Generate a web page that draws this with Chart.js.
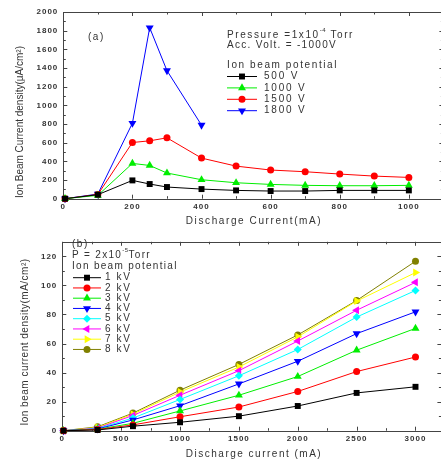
<!DOCTYPE html>
<html>
<head>
<meta charset="utf-8">
<script src="https://cdn.jsdelivr.net/npm/chart.js@4/dist/chart.umd.min.js"></script>
<style>
  html, body { margin: 0; padding: 0; background: #fff; overflow: hidden; width: 441px; height: 464px; }
  canvas { position: absolute; left: 0; }
  #ca { top: 0; }
  #cb { top: 232px; }
</style>
</head>
<body>
<canvas id="ca" width="448" height="232"></canvas>
<canvas id="cb" width="446" height="232"></canvas>
<script>
const FONT = "'Liberation Sans', Arial, sans-serif";
const TXT = "#333";

// (a) pressure 1x10^-4 Torr, current density in uA/cm2
const currentA = [5, 100, 200, 250, 300, 400, 500, 600, 700, 800, 900, 1000];
const v500  = [0, 43, 196, 157, 125, 103, 89, 82, 82, 89, 89, 89];
const v1000 = [0, 36, 378, 356, 275, 203, 171, 153, 143, 139, 139, 143];
const v1500 = [0, 45, 602, 620, 652, 435, 349, 307, 289, 264, 242, 228];
const v1800 = [0, 50, 809, 1832, 1372, 788];

// (b) pressure 2x10^-5 Torr, current density in mA/cm2
const currentB = [10, 300, 600, 1000, 1500, 2000, 2500, 3000];
const kv1 = [0, 0.5, 3.1, 5.8, 10.0, 17.0, 26.0, 30.2];
const kv2 = [0, 0.8, 4.0, 9.6, 16.3, 27.0, 40.7, 50.7];
const kv3 = [0, 1.0, 5.1, 13.6, 24.4, 37.3, 55.4, 70.4];
const kv4 = [0, 1.2, 7.4, 17.2, 32.2, 47.8, 66.8, 81.8];
const kv5 = [0, 1.5, 8.7, 21.5, 37.8, 55.9, 78.2, 96.5];
const kv6 = [0, 1.8, 10.5, 24.4, 41.3, 61.7, 82.9, 102.1];
const kv7 = [0, 2.2, 11.4, 26.6, 43.8, 64.6, 89.2, 108.8];
const kv8 = [0, 2.7, 12.1, 27.9, 45.6, 65.9, 89.6, 116.6];

const pts = (xs, ys) => ys.map((y, i) => ({ x: xs[i], y }));

// marker sizes per style, so squares/triangles look like the original
const RADIUS = { rect: 4.2, circle: 3.5, triangle: 4.6, rectRot: 4 };

function series(label, xs, ys, color, style, rot) {
  const r = RADIUS[style];
  return {
    label, data: pts(xs, ys),
    borderColor: color, backgroundColor: color,
    borderWidth: 1, pointStyle: style, rotation: rot || 0,
    pointRadius: r, pointBorderWidth: 0, pointHoverRadius: r,
    tension: 0, clip: false
  };
}

// letter spacing like the original figure
const spacing = {
  id: 'spacing',
  beforeLayout(c) { c.ctx.letterSpacing = '1px'; },
  beforeDraw(c) { c.ctx.letterSpacing = '1px'; }
};

// box around the plot with inward ticks on all four sides
const frame = {
  id: 'frame',
  beforeDatasetsDraw(chart, args, o) {
    const { ctx, chartArea: a } = chart;
    const xs = chart.scales.x, ys = chart.scales.y;
    ctx.save();
    ctx.strokeStyle = '#444';
    ctx.lineWidth = 1;
    ctx.strokeRect(Math.round(a.left) + 0.5, Math.round(a.top) + 0.5,
      Math.round(a.right - a.left), Math.round(a.bottom - a.top));
    ctx.beginPath();
    xs.ticks.forEach(t => {
      const p = Math.round(xs.getPixelForValue(t.value)) + 0.5;
      const len = t.value % o.xMajor === 0 ? 4 : 2.5;
      ctx.moveTo(p, a.bottom); ctx.lineTo(p, a.bottom - len);
      ctx.moveTo(p, a.top); ctx.lineTo(p, a.top + len);
    });
    ys.ticks.forEach(t => {
      const p = Math.round(ys.getPixelForValue(t.value)) + 0.5;
      const len = t.value % o.yMajor === 0 ? 4 : 2.5;
      ctx.moveTo(a.left, p); ctx.lineTo(a.left + len, p);
      ctx.moveTo(a.right, p); ctx.lineTo(a.right - len, p);
    });
    ctx.stroke();
    ctx.restore();
  }
};

function drawParts(ctx, parts, x, y, size, sp) {
  parts.forEach(p => {
    const s = p.sup ? size * 0.6 : size;
    ctx.font = s + 'px ' + FONT;
    ctx.letterSpacing = (p.sup ? 0.5 : sp) + 'px';
    ctx.fillText(p.t, x, p.sup ? y - size * 0.45 : y);
    x += ctx.measureText(p.t).width;
  });
}

// notes, axis titles and in-plot legend
const notes = {
  id: 'notes',
  afterDraw(chart, args, o) {
    const ctx = chart.ctx;
    ctx.save();
    ctx.fillStyle = TXT;
    ctx.textBaseline = 'middle';
    ctx.textAlign = 'left';
    o.texts.forEach(t => drawParts(ctx, t.parts, t.x, t.y, t.size, t.sp));

    // axis titles
    ctx.font = '10px ' + FONT;
    ctx.textAlign = 'center';
    ctx.letterSpacing = o.xTitle.sp + 'px';
    ctx.fillText(o.xTitle.text, o.xTitle.x, o.xTitle.y);
    ctx.save();
    ctx.translate(o.yTitle.x, o.yTitle.y);
    ctx.rotate(-Math.PI / 2);
    ctx.letterSpacing = o.yTitle.sp + 'px';
    ctx.fillText(o.yTitle.text, 0, 0);
    ctx.restore();

    // legend
    const L = o.legend;
    ctx.textAlign = 'left';
    ctx.font = L.size + 'px ' + FONT;
    ctx.letterSpacing = L.sp + 'px';
    chart.data.datasets.forEach((d, i) => {
      const y = L.y0 + i * L.dy;
      ctx.strokeStyle = d.borderColor;
      ctx.lineWidth = 1;
      ctx.beginPath();
      ctx.moveTo(L.x0, y); ctx.lineTo(L.x1, y);
      ctx.stroke();
      ctx.fillStyle = d.backgroundColor;
      Chart.helpers.drawPoint(ctx, {
        pointStyle: d.pointStyle, rotation: d.rotation,
        radius: d.pointRadius, borderWidth: 0
      }, (L.x0 + L.x1) / 2, y);
      ctx.fillStyle = TXT;
      ctx.fillText(d.label, L.tx, y);
    });
    ctx.restore();
  }
};

function axes(xMax, xStep, xMajor, yMax, yStep, yMajor, yWidth) {
  const tickFont = { family: FONT, size: 8, weight: 'bold' };
  const build = (max, step) => s => {
    const list = [];
    for (let v = 0; v <= max + 1e-9; v += step) list.push({ value: v });
    s.ticks = list;
  };
  return {
    x: {
      type: 'linear', min: 0, max: xMax,
      grid: { display: false, drawTicks: false }, border: { display: false },
      ticks: { autoSkip: false, maxRotation: 0, padding: 3, color: TXT, font: tickFont,
        callback: v => v % xMajor === 0 ? v : '' },
      afterBuildTicks: build(xMax, xStep),
      afterFit: s => { s.height = 33.3; }
    },
    y: {
      min: 0, max: yMax,
      grid: { display: false, drawTicks: false }, border: { display: false },
      ticks: { autoSkip: false, padding: 5, color: TXT, font: tickFont,
        callback: v => v % yMajor === 0 ? v : '' },
      afterBuildTicks: build(yMax, yStep),
      afterFit: s => { s.width = yWidth; }
    }
  };
}

new Chart(document.getElementById('ca'), {
  type: 'line',
  data: {
    datasets: [
      series('500 V', currentA, v500, '#000000', 'rect'),
      series('1000 V', currentA, v1000, '#00ee00', 'triangle'),
      series('1500 V', currentA, v1500, '#ff0000', 'circle'),
      series('1800 V', currentA, v1800, '#0000ff', 'triangle', 180)
    ]
  },
  options: {
    responsive: false, animation: false,
    layout: { padding: { left: 0, top: 12, right: 3, bottom: 0 } },
    scales: axes(1100, 100, 200, 2000, 100, 200, 63.3),
    plugins: {
      legend: { display: false }, tooltip: { enabled: false },
      frame: { xMajor: 200, yMajor: 200 },
      notes: {
        texts: [
          { parts: [{ t: '(a)' }], x: 88, y: 37, size: 10, sp: 1.5 },
          { parts: [{ t: 'Pressure =1x10' }, { t: '-4', sup: true }, { t: ' Torr' }], x: 227, y: 35, size: 10, sp: 1.6 },
          { parts: [{ t: 'Acc. Volt. = -1000V' }], x: 227, y: 45.5, size: 10, sp: 1.3 },
          { parts: [{ t: 'Ion beam potential' }], x: 227, y: 65, size: 10, sp: 1.6 }
        ],
        xTitle: { text: 'Discharge Current(mA)', x: 254, y: 221, sp: 1.6 },
        yTitle: { text: 'Ion Beam Current density(\u03bcA/cm\u00b2)', x: 20, y: 122, sp: 0 },
        legend: { x0: 227, x1: 257, y0: 76.5, dy: 11.4, tx: 264, size: 10, sp: 1.8 }
      }
    }
  },
  plugins: [spacing, frame, notes]
});

new Chart(document.getElementById('cb'), {
  type: 'line',
  data: {
    datasets: [
      series('1 kV', currentB, kv1, '#000000', 'rect'),
      series('2 kV', currentB, kv2, '#ff0000', 'circle'),
      series('3 kV', currentB, kv3, '#00ee00', 'triangle'),
      series('4 kV', currentB, kv4, '#0000ff', 'triangle', 180),
      series('5 kV', currentB, kv5, '#00ffff', 'rectRot'),
      series('6 kV', currentB, kv6, '#ff00ff', 'triangle', 270),
      series('7 kV', currentB, kv7, '#ffff00', 'triangle', 90),
      series('8 kV', currentB, kv8, '#808000', 'circle')
    ]
  },
  options: {
    responsive: false, animation: false,
    layout: { padding: { left: 0, top: 5.7, right: 3.3, bottom: 0 } },
    scales: axes(3220, 250, 500, 130, 10, 20, 62.3),
    plugins: {
      legend: { display: false }, tooltip: { enabled: false },
      frame: { xMajor: 500, yMajor: 20 },
      notes: {
        texts: [
          { parts: [{ t: '(b)' }], x: 72, y: 12, size: 10, sp: 1.5 },
          { parts: [{ t: 'P = 2x10' }, { t: '-5', sup: true }, { t: 'Torr' }], x: 72, y: 23, size: 10, sp: 1.3 },
          { parts: [{ t: 'Ion beam potential' }], x: 72, y: 34, size: 10, sp: 1.3 }
        ],
        xTitle: { text: 'Discharge current (mA)', x: 254, y: 222, sp: 1.5 },
        yTitle: { text: 'Ion beam current density(mA/cm\u00b2)', x: 25, y: 110, sp: 0.5 },
        legend: { x0: 73, x1: 101, y0: 45.7, dy: 10.25, tx: 105, size: 10, sp: 1.6 }
      }
    }
  },
  plugins: [spacing, frame, notes]
});
</script>
</body>
</html>
